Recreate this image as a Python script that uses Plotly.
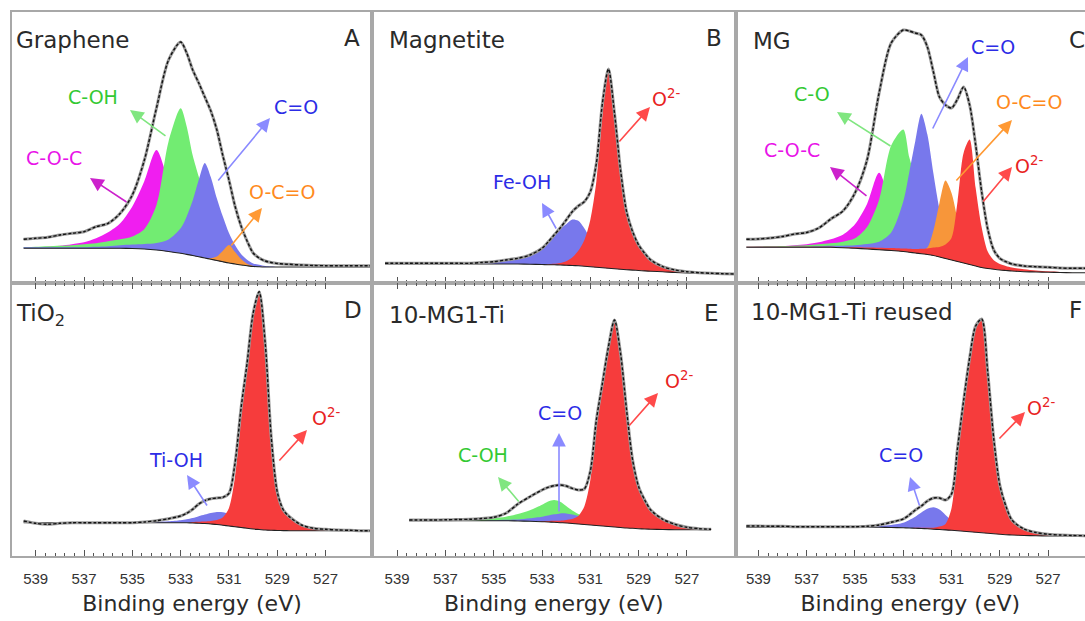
import plotly.graph_objects as go

W, H = 1085, 621

# ---------------- data (binding energy grid, eV) ----------------
EV = [539.5, 539, 538.5, 538, 537.5, 537, 536.5, 536, 535.5, 535, 534.5, 534, 533.5, 533,
      532.75, 532.5, 532.25, 532, 531.75, 531.5, 531.25, 531, 530.75, 530.5, 530.25, 530,
      529.75, 529.5, 529.25, 529, 528.75, 528.5, 528, 527.5, 527, 526.5, 526, 525.5, 525]
MAJOR_TICKS = [539, 537, 535, 533, 531, 529, 527]

# Panel A - Graphene (intensity, a.u.)
A_RAW = [43.7, 44.7, 45.7, 48, 49.7, 51.3, 56.3, 59.7, 69.7, 88, 123, 175, 223, 241,
         230, 213, 200, 186, 172, 153, 127, 103, 77, 57, 42, 30,
         25, 22, 20.5, 19.5, 19, 18.7, 18, 17.5, 17.3, 17.3, 17.3, 17.3, 17.3]
A_BASE = [34.7, 34.7, 34.7, 34.7, 34.7, 34.7, 34.7, 34.7, 34.7, 34.5, 34, 33, 31.5, 29.7,
          28.6, 27.5, 26.2, 25, 23.8, 22.5, 21.2, 20, 19, 18, 17.2, 16.5,
          16.2, 16, 16, 16, 16, 16, 16, 16, 16, 16, 16, 16, 16]
A_COC = [0.5, 1, 1.5, 2.5, 4, 6, 10, 16, 25, 42, 68, 100, 70, 42,
         30, 20, 13, 8, 5, 3, 2, 1, 0.5, 0, 0, 0,
         0, 0, 0, 0, 0, 0, 0, 0, 0, 0, 0, 0, 0]
A_COH = [1, 1.5, 2, 2.5, 3, 4, 5, 7, 9, 12, 20, 45, 110, 145,
         128, 100, 80, 60, 45, 30, 20, 12, 7, 4, 2, 1,
         0.5, 0, 0, 0, 0, 0, 0, 0, 0, 0, 0, 0, 0]
A_CEO = [1, 1, 1, 1, 1, 1, 1.5, 2, 3, 4, 5, 7, 12, 25,
         38, 55, 77, 95, 82, 62, 45, 30, 19, 11, 6, 3,
         2, 1, 0.5, 0, 0, 0, 0, 0, 0, 0, 0, 0, 0]
A_OCO = [0, 0, 0, 0, 0, 0, 0, 0, 0, 0, 0, 0, 0, 0,
         0, 0, 0, 0, 1, 4, 11, 18, 12, 6, 2, 0.5,
         0, 0, 0, 0, 0, 0, 0, 0, 0, 0, 0, 0, 0]

# Panel B - Magnetite
B_RAW = [19.7, 19.7, 19.7, 19.7, 19.7, 19.7, 19.7, 19.7, 20.5, 21.3, 23, 24.7, 28, 34.7,
         41, 48, 55, 63, 71.3, 77, 81.3, 91.3, 119.7, 179.7, 214, 169.7,
         113, 71.3, 51.3, 38, 29.7, 23, 16.3, 13, 11.3, 10.3, 9.7, 9.3, 9]
B_BASE = [19, 19, 19, 19, 19, 19, 19, 19, 19, 19, 19, 19, 18.8, 18.5,
          18.3, 18.2, 18, 17.8, 17.5, 17.2, 16.8, 16.3, 15.8, 15.3, 14.8, 14.3,
          13.8, 13.3, 12.9, 12.5, 12.1, 11.8, 11.3, 10.5, 10, 9.7, 9.5, 9.3, 9]
B_FEOH = [0.5, 0.5, 0.5, 0.5, 0.5, 0.5, 0.5, 0.5, 1, 1.5, 3, 5, 9, 17,
          23, 29, 36, 41, 46, 45, 38, 28, 18, 11, 6, 3.5,
          2, 1, 0.5, 0, 0, 0, 0, 0, 0, 0, 0, 0, 0]
B_O2 = [0, 0, 0, 0, 0, 0, 0, 0, 0, 0, 0, 0, 0, 0,
        0.5, 1, 2, 4, 8, 15, 26, 47, 86, 153, 198, 152,
        97, 57, 38, 25.5, 17.6, 11, 5, 2.5, 1.3, 0.6, 0.3, 0, 0]

# Panel C - MG
C_RAW = [43.7, 44, 45, 46.5, 49, 50.5, 55, 64, 72, 90, 123, 190, 240, 253,
         252, 250, 248, 236, 211, 186, 178, 175, 184, 196, 178, 138,
         91, 54, 33, 24.7, 21.3, 19, 17, 16.3, 15.7, 15, 14.7, 14.7, 14.7]
C_BASE = [35.7, 35.7, 35.7, 35.7, 35.7, 35.7, 35.7, 35.7, 35.3, 34.7, 34, 33.3, 32.5, 31.5,
          30.8, 30, 29.2, 28.5, 27.5, 26, 24.5, 23, 21.5, 20, 18.5, 17,
          15.5, 14.5, 13.7, 13, 12.5, 12, 11.3, 11, 10.7, 10.5, 10.3, 10.3, 10.3]
C_COC = [0, 0.5, 0.8, 1, 2, 3, 5, 8, 13, 24, 45, 77, 45, 22,
         15, 10, 7, 5, 3, 2, 1, 0.5, 0, 0, 0, 0,
         0, 0, 0, 0, 0, 0, 0, 0, 0, 0, 0, 0, 0]
C_CO = [0.5, 0.8, 1, 1.3, 1.6, 2, 3, 4, 6, 10, 22, 50, 105, 122,
        95, 75, 50, 30, 18, 10, 6, 3.5, 2, 1, 0.5, 0,
        0, 0, 0, 0, 0, 0, 0, 0, 0, 0, 0, 0, 0]
C_CEO = [0.5, 0.5, 0.5, 0.5, 0.5, 0.5, 1, 1.5, 2, 3, 5, 8, 18, 50,
         80, 112, 140, 120, 82, 48, 26, 14, 7, 4, 2, 1,
         0.5, 0, 0, 0, 0, 0, 0, 0, 0, 0, 0, 0, 0]
C_OCO = [0, 0, 0, 0, 0, 0, 0, 0, 0, 0, 0, 0, 0.3, 0.8,
         1, 1.5, 3, 7, 25, 54, 78, 67, 42, 20, 9, 4,
         2, 1, 0.5, 0, 0, 0, 0, 0, 0, 0, 0, 0, 0]
C_O2 = [0.5, 0.5, 0.5, 0.5, 0.5, 0.5, 0.5, 0.5, 0.5, 1, 1.5, 2, 2.5, 3,
        3.5, 4, 5, 6, 8, 10, 14, 22, 60, 110, 125, 78,
        40, 17, 9, 6, 4.5, 3.5, 2.5, 1.5, 1, 0.5, 0, 0, 0]

# Panel D - TiO2
D_RAW = [35, 32.7, 31.7, 32.7, 33.3, 33.3, 33.3, 33.3, 33.3, 33.3, 34, 35.3, 37.3, 40,
         42.7, 46.7, 52, 55.3, 57.3, 58, 58.7, 62.7, 92.7, 147.7, 192.7, 242.7,
         264.3, 212.7, 118.7, 64, 46, 39.3, 31, 27.7, 26.7, 26, 25.7, 25.3, 25.3]
D_BASE = [33.3, 33.3, 33.3, 33.3, 33.3, 33.3, 33.3, 33.3, 33.3, 33.3, 33.3, 33.3, 33.3, 33.3,
          33.2, 33, 32.8, 32.5, 32, 31.5, 30.8, 30, 29.2, 28.5, 27.7, 27,
          26.5, 26, 25.7, 25.5, 25.4, 25.3, 25.3, 25.3, 25.3, 25.3, 25.3, 25.3, 25.3]
D_TIOH = [0, 0, 0, 0, 0, 0, 0, 0, 0, 0.5, 0.8, 1, 1.5, 2.5,
          3.5, 5, 7, 9, 11, 12.5, 13, 12, 10, 7.5, 5, 3.5,
          2, 1, 0.5, 0, 0, 0, 0, 0, 0, 0, 0, 0, 0]
D_O2 = [0, 0, 0, 0, 0, 0, 0, 0, 0, 0, 0, 0, 0, 0,
        0, 1, 1.5, 2, 3, 4.5, 8, 18, 50, 110, 160, 212,
        238, 185, 93, 38, 20.6, 14, 5.7, 2.4, 1.4, 0.7, 0.4, 0.2, 0]

# Panel E - 10-MG1-Ti
E_RAW = [None, None, 36, 36, 36, 36.2, 36.5, 36.7, 37.5, 38.7, 42.7, 52, 59.3, 66,
         68.7, 70.3, 71, 70, 67.7, 66, 67, 85, 136, 172.7, 209.3, 236,
         202.7, 146, 96, 69.3, 56, 46, 36.7, 31.7, 28.7, 27.3, 26.7, None, None]
E_BASE = [35.3, 35.3, 35.3, 35.3, 35.3, 35.3, 35.3, 35.3, 35.3, 35.3, 35.3, 35, 34.7, 34.3,
          34, 33.7, 33.3, 33, 32.5, 32, 31.5, 31, 30.5, 30, 29.5, 29,
          28.5, 28, 27.7, 27.3, 27, 26.8, 26.5, 26.3, 26.3, 26.3, 26.3, 26.3, 26.3]
E_COH = [0, 0, 0, 0, 0, 0, 0, 1, 1.5, 2.5, 4, 7, 11, 17,
         20.5, 22.3, 21, 17, 13, 10, 7.5, 5.5, 4, 3, 2, 1.3,
         0.8, 0.5, 0, 0, 0, 0, 0, 0, 0, 0, 0, 0, 0]
E_CEO = [0, 0, 0, 0, 0, 0, 0, 0, 0, 0.5, 1, 1.5, 3, 5,
         6.5, 8, 9.3, 9.5, 9, 8, 6.5, 5, 3.5, 2.3, 1.5, 1,
         0.5, 0, 0, 0, 0, 0, 0, 0, 0, 0, 0, 0, 0]
E_O2 = [0, 0, 0, 0, 0, 0, 0, 0, 0, 0, 0, 0, 0, 0.8,
        1, 1.5, 2, 3, 4.5, 8, 18, 45, 98, 137, 176, 207,
        172.7, 118, 68, 42, 29, 19.2, 10.2, 5.4, 2.4, 1, 0.4, 0, 0]

# Panel F - 10-MG1-Ti reused
F_RAW = [30, 30, 29.7, 29.7, 29.3, 29.3, 29.3, 29.3, 29.3, 29.3, 29.7, 31, 33.7, 37,
         41, 46, 50, 55, 58, 58, 56, 62, 108, 155, 198, 230,
         237, 184, 117, 71, 50, 36, 27, 23.5, 21.7, 21, 20.5, 20.3, 20]
F_BASE = [28.7, 28.7, 28.7, 28.7, 28.7, 28.7, 28.7, 28.7, 28.7, 28.7, 28.7, 28.7, 28.5, 28.2,
          28, 27.8, 27.5, 27.2, 26.8, 26.5, 26.1, 25.7, 25.2, 24.8, 24.3, 23.8,
          23.3, 22.7, 22.2, 21.7, 21.3, 21, 20.5, 20.2, 20, 20, 20, 20, 20]
F_CEO = [0, 0, 0, 0, 0, 0, 0, 0, 0, 0.5, 0.8, 1.3, 2.5, 5,
         8, 11.5, 16, 20, 22, 20, 15, 10, 6, 3.5, 2, 1,
         0.5, 0, 0, 0, 0, 0, 0, 0, 0, 0, 0, 0, 0]
F_O2 = [0, 0, 0, 0, 0, 0, 0, 0, 0, 0, 0, 0, 0, 0,
        0, 0.5, 0.8, 1, 1.5, 3, 6, 22, 77, 127, 172, 205,
        213.7, 161, 95, 49, 28.7, 15, 6.5, 3.3, 1.7, 1, 0.5, 0.3, 0]

# ---------------- styling ----------------
MAG, GRN, BLU, ORG, RED = "#f01ef0", "#72ec72", "#7878ec", "#f7963a", "#f63c3c"
T_MAG, T_GRN, T_BLU, T_ORG, T_RED = "#e814e8", "#33c933", "#2c2ce6", "#ff8a1c", "#e82222"
A_MAG, A_GRN, A_BLU, A_ORG, A_RED = "#cc22cc", "#80e680", "#8a8aff", "#ff9933", "#ff4a4a"
FRAME, TICK, DARK = "#a8a8a8", "#555555", "#2a2a2a"
LFONT = "DejaVu Sans"
TFONT = "Liberation Sans, Arial, sans-serif"

TOP, MID, BOT = 12, 283, 556
XA, XB, XC, XD = 12, 372, 735.5, W
RANGE_A = [539.98, 525.08]
RANGE_B = [540.04, 524.99]
RANGE_C = [539.95, 525.47]

panels = [
    dict(raw=A_RAW, base=A_BASE, comps=[(A_COC, MAG), (A_COH, GRN), (A_CEO, BLU), (A_OCO, ORG)],
         x=(XA, XB), y=(TOP, MID), xr=RANGE_A, yr=[0, 271], bottom=False, edge=False),
    dict(raw=B_RAW, base=B_BASE, comps=[(B_FEOH, BLU), (B_O2, RED)],
         x=(XB, XC), y=(TOP, MID), xr=RANGE_B, yr=[0, 271], bottom=False, edge=False),
    dict(raw=C_RAW, base=C_BASE, comps=[(C_COC, MAG), (C_CO, GRN), (C_CEO, BLU), (C_OCO, ORG), (C_O2, RED)],
         x=(XC, XD), y=(TOP, MID), xr=RANGE_C, yr=[0, 271], bottom=False, edge=True),
    dict(raw=D_RAW, base=D_BASE, comps=[(D_TIOH, BLU), (D_O2, RED)],
         x=(XA, XB), y=(MID, BOT), xr=RANGE_A, yr=[0, 273], bottom=True, edge=False),
    dict(raw=E_RAW, base=E_BASE, comps=[(E_COH, GRN), (E_CEO, BLU), (E_O2, RED)],
         x=(XB, XC), y=(MID, BOT), xr=RANGE_B, yr=[0, 273], bottom=True, edge=False),
    dict(raw=F_RAW, base=F_BASE, comps=[(F_CEO, BLU), (F_O2, RED)],
         x=(XC, XD), y=(MID, BOT), xr=RANGE_C, yr=[0, 273], bottom=True, edge=True),
]

MINOR = [round(539 - 0.4 * k, 1) for k in range(31) if k % 5 != 0]

fig = go.Figure()
layout = dict(width=W, height=H, margin=dict(l=0, r=0, t=0, b=0),
              paper_bgcolor="white", plot_bgcolor="white", showlegend=False)

for i, p in enumerate(panels):
    s = "" if i == 0 else str(i + 1)
    idx = [k for k in range(len(EV)) if p["raw"][k] is not None]
    xs = [EV[k] for k in idx]
    base = [p["base"][k] for k in idx]
    raw = [p["raw"][k] for k in idx]
    common = dict(xaxis="x" + s, yaxis="y" + s, hoverinfo="skip", showlegend=False)
    for vals, col in p["comps"]:
        top = [b + vals[k] for b, k in zip(base, idx)]
        fig.add_trace(go.Scatter(x=xs, y=base, mode="lines",
                                 line=dict(width=0, shape="spline", smoothing=0.8), **common))
        fig.add_trace(go.Scatter(x=xs, y=top, mode="lines", fill="tonexty", fillcolor=col,
                                 line=dict(width=0, shape="spline", smoothing=0.8), **common))
    fig.add_trace(go.Scatter(x=xs, y=base, mode="lines",
                             line=dict(color="#222222", width=1.1, shape="spline", smoothing=0.8), **common))
    fig.add_trace(go.Scatter(x=xs, y=raw, mode="lines",
                             line=dict(color="#9a9a9a", width=3, shape="spline", smoothing=0.8), **common))
    fig.add_trace(go.Scatter(x=xs, y=raw, mode="lines",
                             line=dict(color="#111111", width=1.4, dash="3px,2px", shape="spline", smoothing=0.8),
                             **common))

    xa = dict(domain=[p["x"][0] / W, p["x"][1] / W], range=p["xr"], anchor="y" + s,
              showgrid=False, zeroline=False, showline=True, linecolor=FRAME, linewidth=1.5,
              mirror="ticks" if p["bottom"] else True,
              ticks="inside", ticklen=6, tickwidth=1, tickcolor=TICK,
              tickmode="array", tickvals=MAJOR_TICKS, showticklabels=p["bottom"],
              tickfont=dict(family=TFONT, size=15, color="#333333"), ticklabelstandoff=8,
              minor=dict(tickmode="array", tickvals=MINOR, ticks="inside", ticklen=3,
                         tickcolor=TICK, tickwidth=1))
    if p["bottom"]:
        xa["title"] = dict(text="Binding energy (eV)", standoff=10,
                           font=dict(family=LFONT, size=22, color=DARK))
    ya = dict(domain=[1 - p["y"][1] / H, 1 - p["y"][0] / H], range=p["yr"], anchor="x" + s,
              showgrid=False, zeroline=False, showline=True, linecolor=FRAME, linewidth=1.5,
              mirror=not p["edge"], showticklabels=False, ticks="")
    layout["xaxis" + s] = xa
    layout["yaxis" + s] = ya


def px(x, y):
    return x / W, 1 - y / H


LS, TS = 19, 23
texts = [
    ("Graphene", 14, 40, DARK, TS), ("A", 342, 38, DARK, TS),
    ("C-OH", 66, 97, T_GRN, LS), ("C-O-C", 24, 158, T_MAG, LS),
    ("C=O", 272, 107, T_BLU, LS), ("O-C=O", 247, 192, T_ORG, LS),
    ("Magnetite", 387, 40, DARK, TS), ("B", 704, 38, DARK, TS),
    ("O<sup>2-</sup>", 650, 98, T_RED, LS), ("Fe-OH", 491, 182, T_BLU, LS),
    ("MG", 751, 41, DARK, TS), ("C", 1067, 40, DARK, TS),
    ("C=O", 969, 47, T_BLU, LS), ("C-O", 792, 94, T_GRN, LS),
    ("C-O-C", 762, 150, T_MAG, LS), ("O-C=O", 994, 102, T_ORG, LS),
    ("O<sup>2-</sup>", 1013, 165, T_RED, LS),
    ("TiO<sub>2</sub>", 14, 315, DARK, TS), ("D", 342, 310, DARK, TS),
    ("O<sup>2-</sup>", 310, 417, T_RED, LS), ("Ti-OH", 147, 460, T_BLU, LS),
    ("10-MG1-Ti", 387, 315, DARK, TS), ("E", 702, 313, DARK, TS),
    ("O<sup>2-</sup>", 663, 380, T_RED, LS), ("C=O", 536, 413, T_BLU, LS),
    ("C-OH", 456, 455, T_GRN, LS),
    ("10-MG1-Ti reused", 749, 312, DARK, TS), ("F", 1067, 310, DARK, TS),
    ("O<sup>2-</sup>", 1025, 407, T_RED, LS), ("C=O", 877, 455, T_BLU, LS),
]

arrows = [
    (A_GRN, 130, 110, 167, 137), (A_MAG, 90, 178, 128, 203),
    (A_BLU, 270, 118, 217, 182), (A_ORG, 262, 208, 230, 247),
    (A_RED, 650, 107, 618, 143), (A_BLU, 542, 203, 557, 230),
    (A_BLU, 968, 57, 932, 130), (A_GRN, 837, 112, 892, 147),
    (A_MAG, 830, 167, 868, 197), (A_ORG, 1012, 120, 955, 182),
    (A_RED, 1012, 167, 982, 203),
    (A_RED, 307, 430, 278, 462), (A_BLU, 187, 475, 208, 507),
    (A_RED, 658, 393, 628, 427), (A_BLU, 559, 433, 559, 513),
    (A_GRN, 498, 477, 520, 503),
    (A_RED, 1025, 412, 998, 440), (A_BLU, 910, 477, 920, 507),
]

ann = []
for t, x, y, c, sz in texts:
    X, Y = px(x, y)
    ann.append(dict(text=t, x=X, y=Y, xref="paper", yref="paper", xanchor="left", yanchor="middle",
                    showarrow=False, font=dict(family=LFONT, size=sz, color=c)))
for c, x1, y1, x0, y0 in arrows:
    X, Y = px(x1, y1)
    ann.append(dict(text="", x=X, y=Y, xref="paper", yref="paper", ax=x0 - x1, ay=y0 - y1,
                    axref="pixel", ayref="pixel", showarrow=True, arrowhead=2, arrowsize=1.7,
                    arrowwidth=1.6, arrowcolor=c, standoff=0, startstandoff=0))
layout["annotations"] = ann

fig.update_layout(**layout)
fig.write_html("out.html")
